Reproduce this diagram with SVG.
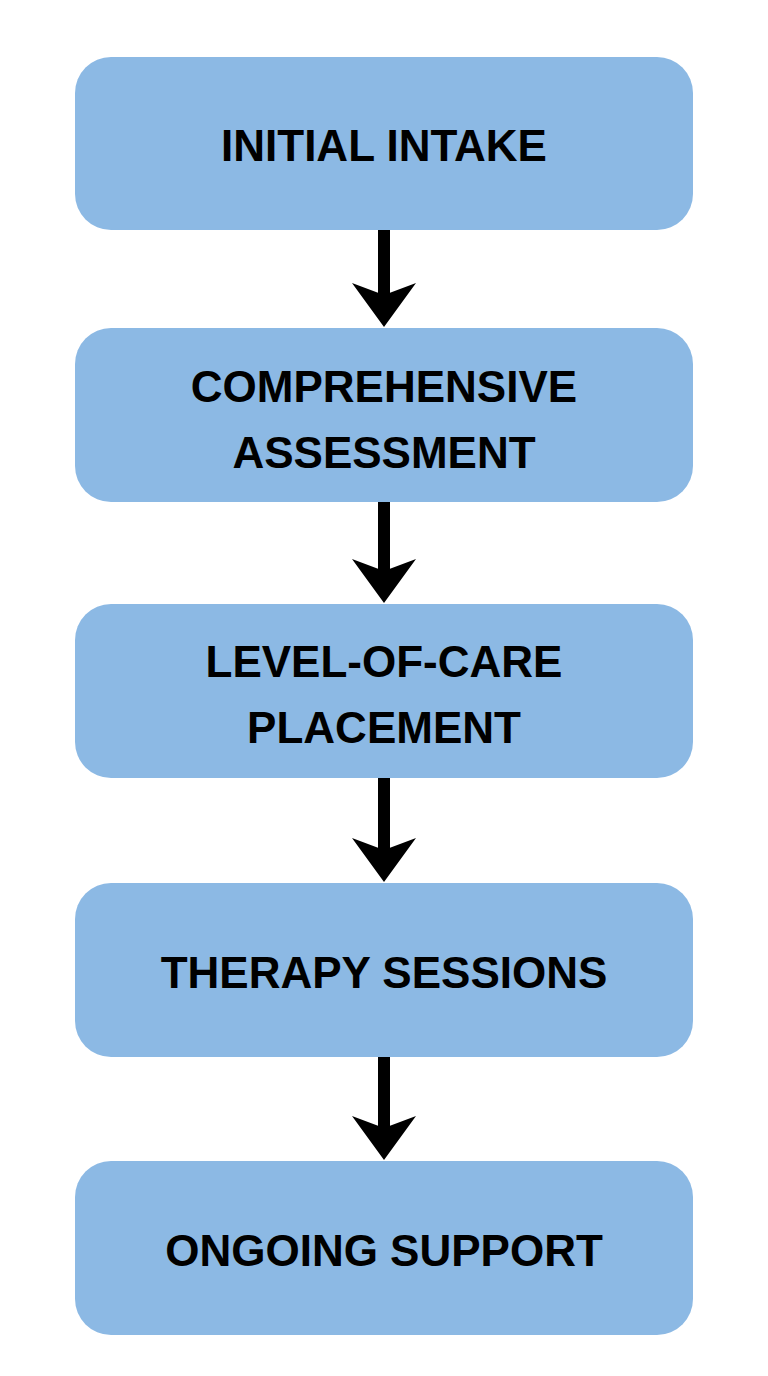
<svg xmlns="http://www.w3.org/2000/svg" width="768" height="1376" viewBox="0 0 768 1376">
<style>
.box{fill:#8cb9e4;}
.t{font-family:"Liberation Sans",Arial,sans-serif;font-weight:bold;font-size:44px;fill:#000;text-anchor:middle;}
.sh{stroke:#000;stroke-width:12;}
</style>
<defs>
<path id="ah" d="M-32,-44 L0,0 L32,-44 L0,-32 Z" fill="#000"/>
</defs>
<rect width="768" height="1376" fill="#fff"/>
<g id="connectors">
<line class="sh" x1="384" y1="230" x2="384" y2="300"/><use href="#ah" x="384" y="327"/>
<line class="sh" x1="384" y1="502" x2="384" y2="576"/><use href="#ah" x="384" y="603"/>
<line class="sh" x1="384" y1="778" x2="384" y2="855"/><use href="#ah" x="384" y="882"/>
<line class="sh" x1="384" y1="1057" x2="384" y2="1133"/><use href="#ah" x="384" y="1160"/>
</g>
<g id="n1"><rect class="box" x="75" y="57" width="618" height="173" rx="36"/><text class="t" x="384" y="161">INITIAL INTAKE</text></g>
<g id="n2"><rect class="box" x="75" y="328" width="618" height="174" rx="36"/><text class="t" x="384" y="402">COMPREHENSIVE</text><text class="t" x="384" y="468">ASSESSMENT</text></g>
<g id="n3"><rect class="box" x="75" y="604" width="618" height="174" rx="36"/><text class="t" x="384" y="677">LEVEL-OF-CARE</text><text class="t" x="384" y="743">PLACEMENT</text></g>
<g id="n4"><rect class="box" x="75" y="883" width="618" height="174" rx="36"/><text class="t" x="384" y="988">THERAPY SESSIONS</text></g>
<g id="n5"><rect class="box" x="75" y="1161" width="618" height="174" rx="36"/><text class="t" x="384" y="1266">ONGOING SUPPORT</text></g>
</svg>
